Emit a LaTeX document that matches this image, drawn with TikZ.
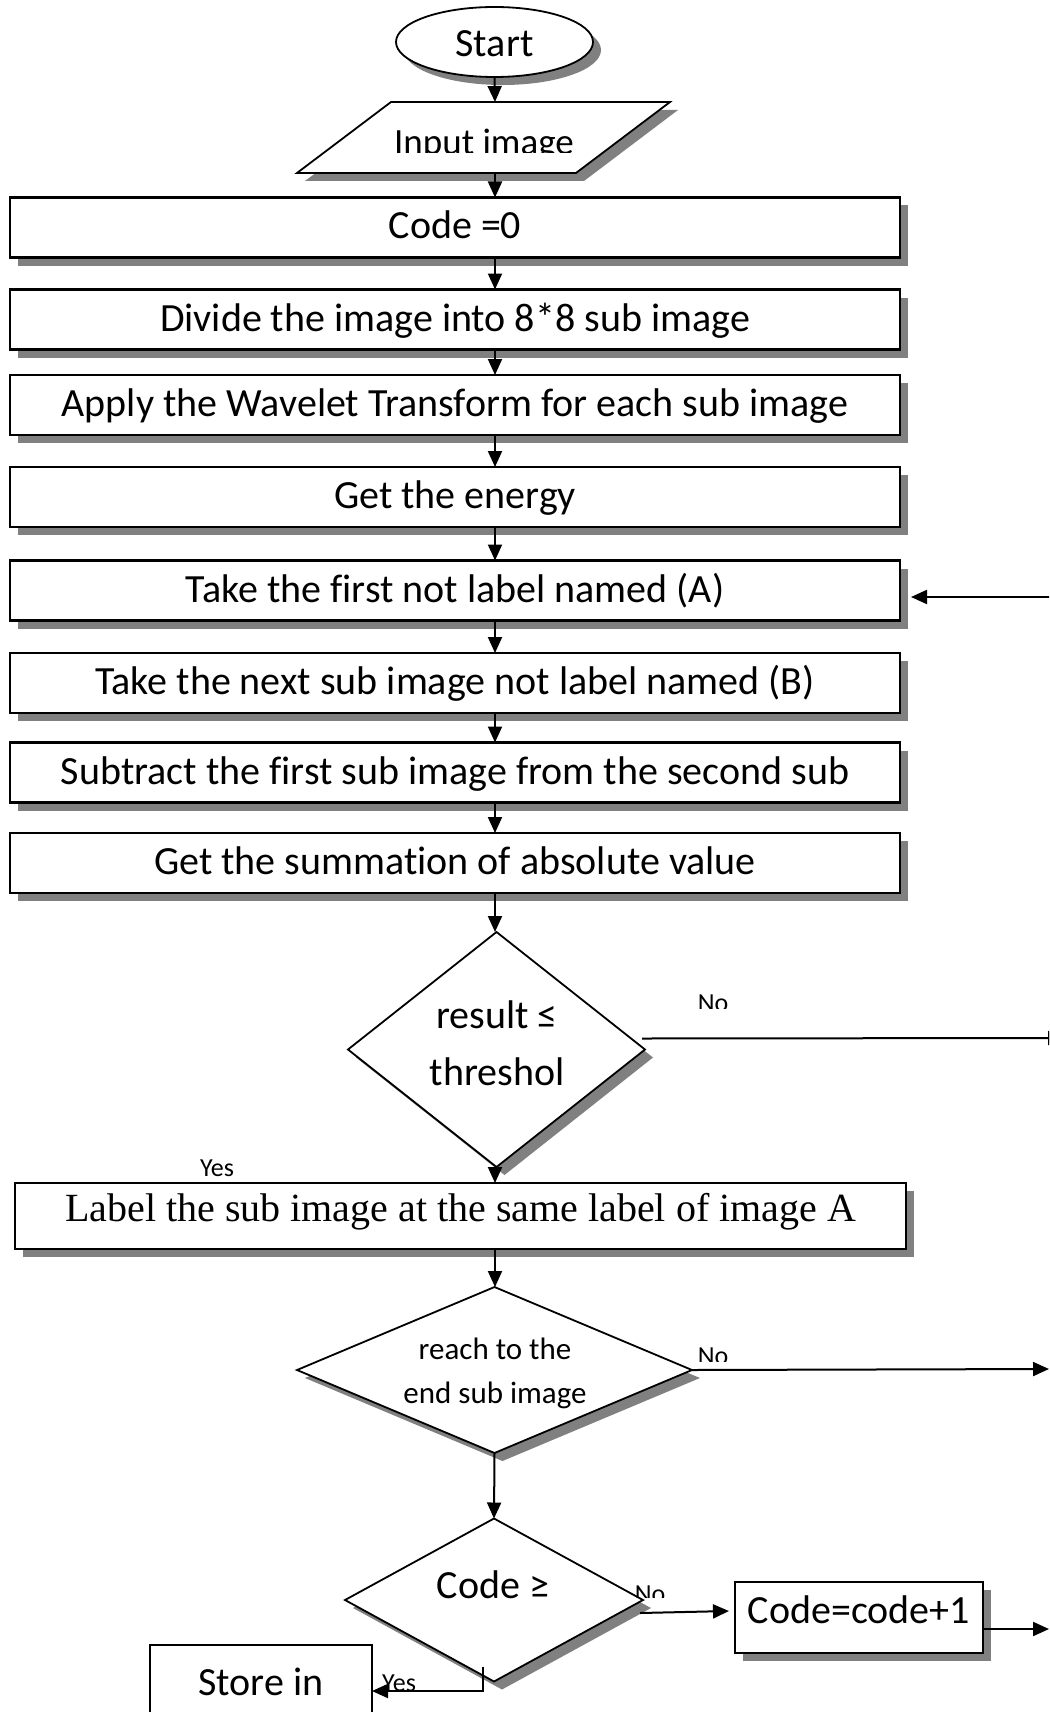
\documentclass[tikz,border=0pt]{standalone}
\usepackage{fontspec}
\setmainfont{Carlito}[Ligatures={NoCommon}]
\newfontfamily\timesfont{Liberation Serif}
\usetikzlibrary{shapes.geometric,shadows,arrows.meta}
\definecolor{shadowgray}{HTML}{808080}
\begin{document}
\begin{tikzpicture}[x=1pt,y=-1pt,
  shade8/.style={drop shadow={shadow xshift=8pt,shadow yshift=-8pt,opacity=1,fill=shadowgray}},
  bigtext/.style={font=\fontsize{40pt}{48pt}\selectfont},
  midtext/.style={font=\fontsize{31pt}{38pt}\selectfont},
  smalltext/.style={font=\fontsize{26pt}{30pt}\selectfont},
  stepbox/.style={draw,line width=2.2pt,fill=white,inner sep=0pt,outer sep=0pt,bigtext,
    minimum width=890pt,minimum height=60pt,text height=34pt,text depth=11pt,shade8},
  decision/.style={diamond,draw,line width=1.8pt,fill=white,inner sep=0pt,outer sep=0pt,shade8},
  conn/.style={line width=2pt,-{Triangle[length=16pt,width=14pt]}},
]
\useasboundingbox (0,0) rectangle (1049,1712);
\clip (0,0) rectangle (1049,1712);

% Start
\node[ellipse,draw,line width=1.8pt,fill=white,inner sep=0pt,outer sep=0pt,bigtext,
  minimum width=197pt,minimum height=70pt,text height=35pt,text depth=5pt,shade8] (start) at (494.5,42) {Start};

% Input parallelogram
\fill[shadowgray] (399,110) -- (678,110) -- (584,181) -- (305,181) -- cycle;
\draw[line width=1.8pt,fill=white] (391,102) -- (670,102) -- (576,173) -- (297,173) -- cycle;
\coordinate (pin) at (495,102);
\coordinate (pout) at (495,173);
\begin{scope}
  \clip (300,102) rectangle (670,153);
  \node[anchor=base,font=\fontsize{37pt}{44pt}\selectfont,inner sep=0pt] (inp) at (484,155) {Input image};
\end{scope}

% Process boxes
\node[stepbox] (b1) at (455,227.5) {Code =0};
\node[stepbox] (b2) at (455,319.5) {Divide the image into 8*8 sub image};
\node[stepbox] (b3) at (455,405) {Apply the Wavelet Transform for each sub image};
\node[stepbox] (b4) at (455,497) {Get the energy};
\node[stepbox] (b5) at (455,590.5) {Take the first not label named (A)};
\node[stepbox] (b6) at (455,683) {Take the next sub image not label named (B)};
\node[stepbox] (b7) at (455,772.5) {Subtract the first sub image from the second sub};
\node[stepbox] (b8) at (455,863) {Get the summation of absolute value};

% Decision 1
\node[decision,minimum width=297pt,minimum height=235pt] (d1) at (496.5,1049.5) {};
\node[anchor=base,bigtext,inner sep=0pt] (t1a) at (497,1028) {result ≤};
\node[anchor=base,bigtext,inner sep=0pt] (t1b) at (497,1085) {threshol};

% Label box
\node[draw,line width=2.2pt,fill=white,inner sep=0pt,outer sep=0pt,
  font=\timesfont\fontsize{40pt}{48pt}\selectfont,
  minimum width=891pt,minimum height=66pt,text height=20pt,text depth=10pt,shade8] (lb) at (460.5,1216)
  {Label the sub image at the same label of image A};

% Decision 2
\node[decision,minimum width=395pt,minimum height=166pt] (d2) at (494.5,1370) {};
\node[anchor=base,midtext,inner sep=0pt] (t2a) at (495,1359) {reach to the};
\node[anchor=base,midtext,inner sep=0pt] (t2b) at (495,1403) {end sub image};

% Decision 3
\node[decision,minimum width=298pt,minimum height=163pt] (d3) at (494,1600) {};
\node[anchor=base,bigtext,inner sep=0pt] (t3) at (493,1598) {Code ≥};

% Code = code + 1
\node[draw,line width=2.2pt,fill=white,inner sep=0pt,outer sep=0pt,bigtext,
  minimum width=248pt,minimum height=71pt,text height=21pt,text depth=10pt,shade8] (cc) at (859,1617.5) {Code=code+1};

% Store in
\node[draw,line width=2.2pt,fill=white,inner sep=0pt,outer sep=0pt,bigtext,
  minimum width=222pt,minimum height=100pt,text height=10pt,text depth=10pt] (store) at (261,1695) {Store in};

% Vertical flow connectors
\coordinate (ax) at (495,0);
\draw[conn] (start.south) -- (pin);
\draw[conn] (pout) -- (b1.north -| ax);
\draw[conn] (b1.south -| ax) -- (b2.north -| ax);
\draw[conn] (b2.south -| ax) -- (b3.north -| ax);
\draw[conn] (b3.south -| ax) -- (b4.north -| ax);
\draw[conn] (b4.south -| ax) -- (b5.north -| ax);
\draw[conn] (b5.south -| ax) -- (b6.north -| ax);
\draw[conn] (b6.south -| ax) -- (b7.north -| ax);
\draw[conn] (b7.south -| ax) -- (b8.north -| ax);
\draw[conn] (b8.south -| ax) -- (d1.north -| ax);
\draw[conn] (d1.south -| ax) -- (lb.north -| ax);
\draw[conn] (lb.south -| ax) -- (d2.north -| ax);
\draw[conn] (d2.south) -- (d3.north);

% Loop-back arrow into box (A)
\coordinate (back) at (1060,597);
\draw[conn] (back) -- ([xshift=11pt,yshift=-6.5pt]b5.east);

% No branches
\coordinate (no1end) at (1064,1038);
\draw[conn] ([xshift=-3pt,yshift=11pt]d1.east) -- (no1end);
\coordinate (no2end) at (1049,1369);
\draw[conn] (d2.east) -- (no2end);
\draw[conn] ([xshift=-3pt,yshift=-13pt]d3.east) -- ([xshift=-6pt,yshift=6.5pt]cc.west);
\coordinate (ccend) at (1049,1629);
\draw[conn] ([yshift=-11.5pt]cc.east) -- (ccend);

% Yes branch to Store
\draw[conn] ([xshift=-11pt,yshift=15pt]d3.south) |- ([yshift=4pt]store.east);

% Branch labels
\begin{scope}
  \clip (690,985) rectangle (745,1008);
  \node[anchor=base,smalltext,inner sep=0pt] (no1) at (713,1011) {No};
\end{scope}
\begin{scope}
  \clip (690,1340) rectangle (745,1361);
  \node[anchor=base,smalltext,inner sep=0pt] (no2) at (713,1364) {No};
\end{scope}
\begin{scope}
  \clip (625,1578) rectangle (680,1597);
  \node[anchor=base,smalltext,inner sep=0pt] (no3) at (650,1602) {No};
\end{scope}
\node[anchor=base,smalltext,inner sep=0pt] (yes1) at (217,1176) {Yes};
\node[anchor=base,smalltext,inner sep=0pt] (yes2) at (399,1691) {Yes};
\end{tikzpicture}
\end{document}
